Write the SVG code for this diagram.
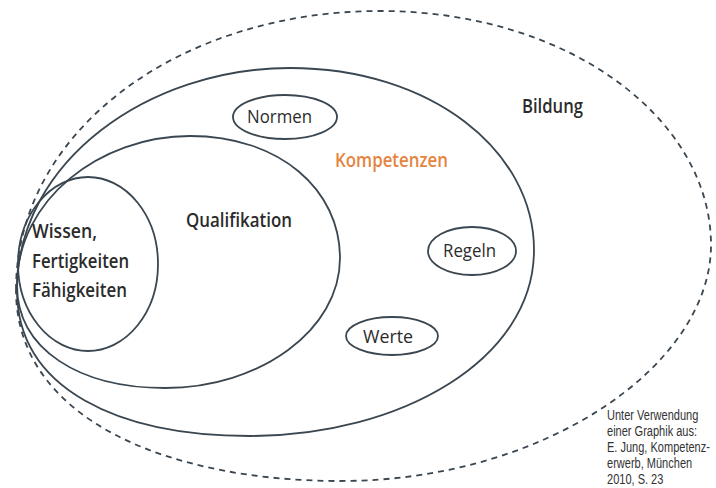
<svg xmlns="http://www.w3.org/2000/svg" width="716" height="488" viewBox="0 0 716 488">
<style>
.ring{fill:none;stroke:#3a4650;stroke-width:1.8}
.dash{fill:none;stroke:#3a4650;stroke-width:1.8;stroke-dasharray:6 5}
.big{font-family:"Open Sans","Noto Sans",sans-serif;font-weight:600;font-size:20px;fill:#2b2b2b}
.small{font-family:"Open Sans","Noto Sans",sans-serif;font-weight:400;font-size:18px;fill:#2b2b2b}
.komp{font-family:"Open Sans","Noto Sans",sans-serif;font-weight:600;font-size:19px;fill:#e5843f}
.cite{font-family:"Liberation Sans",Arial,sans-serif;font-size:15px;fill:#333}
</style>
<rect width="716" height="488" fill="#fff"/>
<g id="bildung">
<path class="dash" d="M16,290 C16,130 180,11 380,11 C570,11 711,120 711,245 C711,365 545,481 340,481 C170,481 16,420 16,290 Z"/>
<text class="big" x="522" y="113" textLength="61" lengthAdjust="spacingAndGlyphs">Bildung</text>
</g>
<g id="kompetenzen">
<path class="ring" d="M17,290 C17,160 150,68 290,68 C430,68 534,150 534,250 C534,360 400,436 250,436 C120,436 17,390 17,290 Z"/>
<text class="komp" x="335" y="167" textLength="113" lengthAdjust="spacingAndGlyphs">Kompetenzen</text>
</g>
<g id="qualifikation">
<path class="ring" d="M17,285 C17,200 100,136 190,136 C280,136 340,190 340,258 C340,330 260,388 165,388 C80,388 17,350 17,285 Z"/>
<text class="big" x="186" y="227" textLength="106" lengthAdjust="spacingAndGlyphs">Qualifikation</text>
</g>
<g id="wissen">
<ellipse class="ring" cx="88" cy="264" rx="70" ry="87"/>
<text class="big" x="32" y="238" textLength="65" lengthAdjust="spacingAndGlyphs">Wissen,</text>
<text class="big" x="32" y="268" textLength="97" lengthAdjust="spacingAndGlyphs">Fertigkeiten</text>
<text class="big" x="32" y="297" textLength="95" lengthAdjust="spacingAndGlyphs">Fähigkeiten</text>
</g>
<g id="normen">
<ellipse class="ring" cx="285" cy="117" rx="52" ry="22"/>
<text class="small" x="247" y="123" textLength="65" lengthAdjust="spacingAndGlyphs">Normen</text>
</g>
<g id="regeln">
<ellipse class="ring" cx="472" cy="251" rx="44" ry="24"/>
<text class="small" x="443" y="257" textLength="53" lengthAdjust="spacingAndGlyphs">Regeln</text>
</g>
<g id="werte">
<ellipse class="ring" cx="392" cy="336" rx="46" ry="19"/>
<text class="small" x="363" y="343" textLength="50" lengthAdjust="spacingAndGlyphs">Werte</text>
</g>
<g id="connectors"></g>
<g id="quelle" transform="translate(607,0) scale(0.735,1)">
<text class="cite" x="0" y="420.5">Unter Verwendung</text>
<text class="cite" x="0" y="436.5">einer Graphik aus:</text>
<text class="cite" x="0" y="452.5">E. Jung, Kompetenz-</text>
<text class="cite" x="0" y="468.5">erwerb, München</text>
<text class="cite" x="0" y="484.5">2010, S. 23</text>
</g>
</svg>
